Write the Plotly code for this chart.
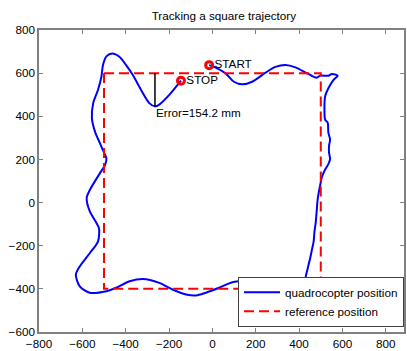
import plotly.graph_objects as go

# Reference square
ref_x = [-500, 500, 500, -500, -500]
ref_y = [600, 600, -400, -400, 600]

# Quadrocopter trajectory (from START to STOP)
traj_x = [-15, 8, 61, 99, 138, 183, 245, 291, 337, 383, 428, 467, 482, 497, 535, 551, 578,
          558, 535, 520, 517, 520, 532, 535, 543, 538, 538, 543, 535, 517, 505, 497, 486, 482,
          477, 471, 467, 459, 451, 440, 431, 425, 425, 390, 340, 306, 245, 183, 138, 92, 31,
          -30, -76, -122, -184, -245, -321, -382, -444, -489, -566, -612, -630, -612, -566,
          -528, -523, -538, -566, -580, -563, -512, -495, -489, -500, -520, -540, -556, -550,
          -528, -512, -505, -489, -462, -428, -398, -367, -329, -291, -265, -245, -199, -145]
traj_y = [637, 629, 599, 560, 548, 560, 602, 629, 638, 627, 604, 583, 579, 588, 588, 596, 588,
          568, 530, 492, 431, 385, 370, 324, 293, 262, 232, 201, 178, 147, 117, 79, 18, -28,
          -89, -135, -181, -220, -258, -304, -342, -395, -426, -455, -440, -418, -392, -372,
          -365, -369, -395, -418, -431, -426, -403, -372, -354, -365, -395, -411, -418, -388,
          -334, -296, -235, -181, -120, -89, -40, 22, 63, 147, 175, 205, 232, 278, 324, 390,
          461, 522, 583, 637, 678, 691, 675, 637, 591, 522, 461, 446, 454, 499, 565]

start_pt = (-15, 637)
stop_pt = (-145, 565)
err_x = [-265, -265]
err_y = [600, 445.8]
err_label = "Error=154.2 mm"

x_ticks = [-800, -600, -400, -200, 0, 200, 400, 600, 800]
y_ticks = [-600, -400, -200, 0, 200, 400, 600, 800]

FS = 11.7
fig = go.Figure()
fig.add_trace(go.Scatter(x=traj_x, y=traj_y, mode="lines", name="quadrocopter position",
                         line=dict(color="#0000ff", width=2, shape="spline", smoothing=0.8)))
fig.add_trace(go.Scatter(x=ref_x, y=ref_y, mode="lines", name="reference position",
                         line=dict(color="#ff0000", width=2, dash="10px,5px")))
fig.add_trace(go.Scatter(x=err_x, y=err_y, mode="lines", showlegend=False,
                         line=dict(color="black", width=1.5)))
fig.add_trace(go.Scatter(x=[start_pt[0], stop_pt[0]], y=[start_pt[1], stop_pt[1]],
                         mode="markers+text", showlegend=False,
                         text=["START", "STOP"], textposition="middle right",
                         textfont=dict(size=FS, color="black", family="Liberation Sans, Arial"),
                         marker=dict(symbol="circle-open", size=7, color="#ff0000",
                                     line=dict(width=3, color="#ff0000"))))

fig.add_annotation(x=-268, y=416, text=err_label, showarrow=False, xanchor="left",
                   yanchor="middle", font=dict(size=FS, color="black"))

axis_common = dict(showgrid=False, zeroline=False, showline=True, linecolor="#808080",
                   linewidth=1.5, mirror="allticks", ticks="inside", ticklen=4,
                   tickcolor="#808080", tickfont=dict(size=FS, color="black"))

fig.update_layout(
    width=407, height=351,
    margin=dict(l=39, r=1, t=30, b=16),
    paper_bgcolor="white", plot_bgcolor="white",
    font=dict(family="Liberation Sans, Arial, sans-serif", size=FS, color="black"),
    title=dict(text="Tracking a square trajectory", x=0.55, xanchor="center",
               y=0.955, yanchor="middle", yref="container", font=dict(size=FS)),
    xaxis=dict(range=[-800, 884], tickvals=x_ticks, ticktext=[str(v).replace("-", "\u2212") for v in x_ticks], **axis_common),
    yaxis=dict(range=[-600, 800], tickvals=y_ticks, ticktext=[str(v).replace("-", "\u2212") for v in y_ticks], **axis_common),
    legend=dict(x=1, xanchor="right", y=0.017, yanchor="bottom", bgcolor="white",
                bordercolor="#404040", borderwidth=1, font=dict(size=FS),
                tracegroupgap=0, itemwidth=36),
    showlegend=True,
)

fig.write_html("out.html", config={"displayModeBar": False},
               post_script="document.body.style.margin='0';document.body.style.overflow='hidden';")
